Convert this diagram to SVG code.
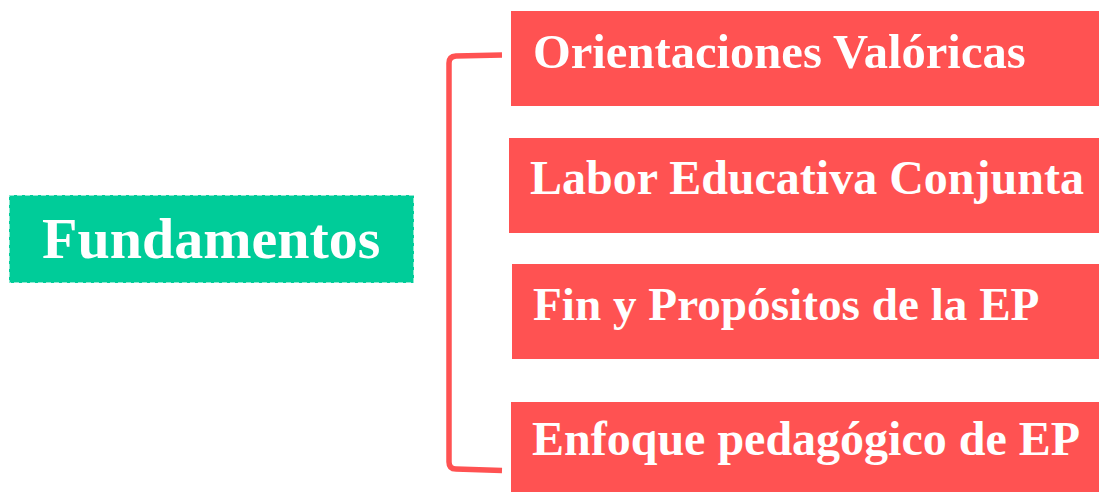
<svg xmlns="http://www.w3.org/2000/svg" width="1099" height="492" viewBox="0 0 1099 492">
<style>
.item{fill:#ff5252}
.lbl{font-family:"Liberation Serif","Times New Roman",serif;font-weight:bold;fill:#ffffff}
.conn{fill:none;stroke:#ff5252;stroke-width:5.5;stroke-linecap:butt;stroke-linejoin:round}
</style>
<rect width="1099" height="492" fill="#ffffff"/>
<g id="connectors">
<path class="conn" d="M502,55 L456,56 Q449,56.5 449,63 L449,462 Q449,469 456,469 L502,470.5"/>
</g>
<g id="fundamentos">
<rect x="9" y="195" width="405" height="88" fill="#00cc99" stroke="#ffffff" stroke-opacity="0.55" stroke-width="2" stroke-dasharray="5 3"/>
<text class="lbl" x="42" y="258" font-size="58">Fundamentos</text>
</g>
<g id="orientaciones">
<rect class="item" x="511" y="11" width="588" height="95"/>
<text class="lbl" x="533" y="68" font-size="48.6">Orientaciones Valóricas</text>
</g>
<g id="labor">
<rect class="item" x="509" y="138" width="590" height="95"/>
<text class="lbl" x="530" y="194" font-size="48">Labor Educativa Conjunta</text>
</g>
<g id="fin">
<rect class="item" x="512" y="264" width="587" height="95"/>
<text class="lbl" x="533" y="320" font-size="47.2">Fin y Propósitos de la EP</text>
</g>
<g id="enfoque">
<rect class="item" x="511" y="402" width="588" height="90"/>
<text class="lbl" x="532" y="455" font-size="48">Enfoque pedagógico de EP</text>
</g>
</svg>
